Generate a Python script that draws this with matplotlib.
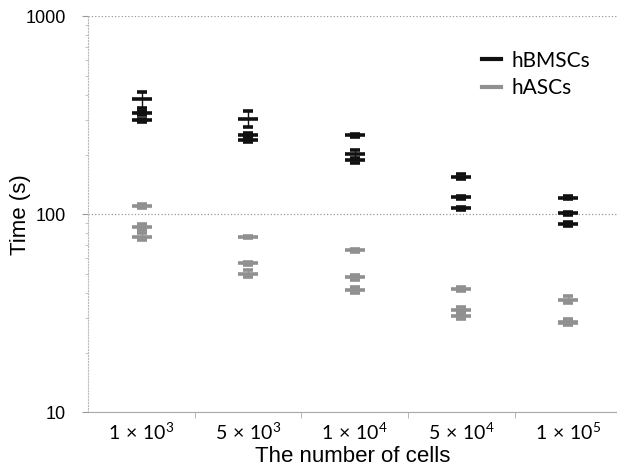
import matplotlib
matplotlib.use("Agg")
import matplotlib.pyplot as plt
import numpy as np
from matplotlib.ticker import LogLocator, NullFormatter, FixedLocator, FixedFormatter
from matplotlib.lines import Line2D

plt.rcParams['font.family'] = ['Lato', 'DejaVu Sans']
plt.rcParams['mathtext.fontset'] = 'custom'
plt.rcParams['mathtext.rm'] = 'Lato'
plt.rcParams['mathtext.it'] = 'Lato'

categories = [r"1$\,\times\,$10$^{3}$", r"5$\,\times\,$10$^{3}$", r"1$\,\times\,$10$^{4}$",
              r"5$\,\times\,$10$^{4}$", r"1$\,\times\,$10$^{5}$"]
y_ticks = [10, 100, 1000]
y_tick_labels = ['10', '100', '1000']

# three measurements per category
hbmsc_vals = [[380, 324, 298], [303, 252, 236], [250, 201, 187], [155, 122, 107], [121, 101, 89]]
hbmsc_errs = [[35, 8, 6], [28, 6, 5], [4, 10, 5], [5, 2, 2], [2, 2, 2]]
hasc_vals = [[110, 86, 77], [77, 56.6, 50], [65.6, 48, 41.5], [42, 32.8, 30.6], [37, 28.6, 28.3]]
hasc_errs = [[2, 3, 3], [1, 1, 2], [1, 1.5, 1.5], [1, 1, 1], [1.5, 0.8, 0.8]]

black = '#111111'
gray = '#909090'

fig = plt.figure(figsize=(6.17, 4.76), dpi=100)
ax = fig.add_axes([0.143, 0.134, 0.857, 0.832])

def draw(vals, errs, color):
    for i, (vs, es) in enumerate(zip(vals, errs)):
        xs = np.full(len(vs), i, dtype=float)
        ax.errorbar(xs, vs, yerr=es, fmt='_', color=color, ecolor=color,
                    markersize=14, mew=2.6, elinewidth=1, capsize=3.5, capthick=1,
                    zorder=3)

draw(hbmsc_vals, hbmsc_errs, black)
draw(hasc_vals, hasc_errs, gray)

ax.set_yscale('log')
ax.set_ylim(10, 1000)
ax.set_xlim(-0.5, 4.46)
ax.yaxis.set_major_locator(FixedLocator(y_ticks))
ax.yaxis.set_major_formatter(FixedFormatter(y_tick_labels))
ax.yaxis.set_minor_locator(LogLocator(base=10, subs=np.arange(2, 10)))
ax.yaxis.set_minor_formatter(NullFormatter())
ax.tick_params(axis='y', which='major', length=4, color='#999999', width=0.8, pad=12)
ax.tick_params(axis='y', which='minor', length=2, color='#bbbbbb', width=0.6)

ax.set_xticks(range(len(categories)))
ax.set_xticklabels(categories, fontsize=14)
ax.xaxis.set_minor_locator(FixedLocator([0.5, 1.5, 2.5, 3.5]))
ax.tick_params(axis='x', which='major', length=0, pad=7)
ax.tick_params(axis='x', which='minor', length=4, color='#aaaaaa')

ax.grid(axis='y', which='major', linestyle=':', color='#999999', linewidth=0.9)
for s in ['top', 'right']:
    ax.spines[s].set_visible(False)
ax.spines['left'].set_color('#bbbbbb')
ax.spines['left'].set_linestyle(':')
ax.spines['bottom'].set_color('#aaaaaa')
ax.spines['bottom'].set_linewidth(0.8)

ax.set_ylabel('Time (s)', fontsize=16, family='Liberation Sans')
ax.yaxis.set_label_coords(-0.108, 0.5)
ax.set_xlabel('The number of cells', fontsize=16, labelpad=2, family='Liberation Sans')

handles = [Line2D([], [], color=black, lw=3), Line2D([], [], color=gray, lw=3)]
ax.legend(handles, ['hBMSCs', 'hASCs'], loc='upper right', bbox_to_anchor=(0.985, 0.96),
          frameon=False, fontsize=15, handlelength=0.9, handletextpad=0.5, labelspacing=0.35)

fig.canvas.draw()
for lbl in ax.get_yticklabels():
    lbl.set_fontfamily('Liberation Sans')
    lbl.set_fontsize(13)

fig.savefig('out.png', dpi=100)
